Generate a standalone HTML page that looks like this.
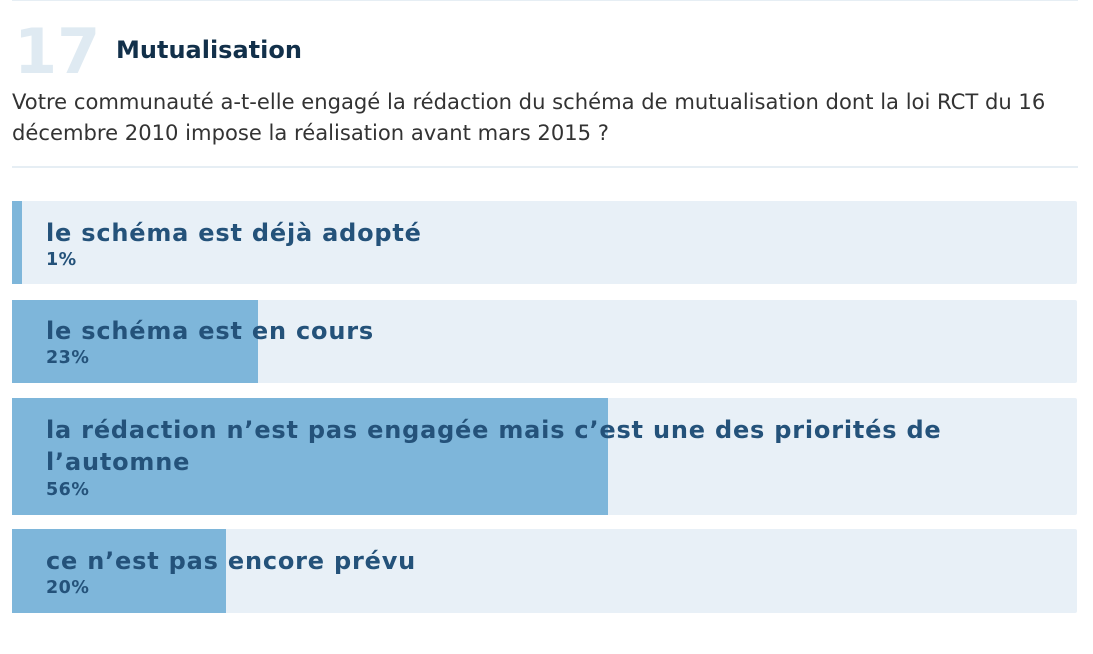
<!DOCTYPE html>
<html><head><meta charset="utf-8"><style>
body{margin:0;width:1093px;height:654px;background:#fff;font-family:"DejaVu Sans","Liberation Sans",sans-serif;position:relative;overflow:hidden}
.a{position:absolute}
.hr{position:absolute;left:12px;width:1066px;height:2px;background:#e6eef4}
.bar{position:absolute;left:12px;width:1065px;background:#e8f0f7;border-radius:2px}
.fill{position:absolute;left:0;top:0;bottom:0;background:#7eb6da}
.lab{position:absolute;left:34px;font-weight:bold;font-size:24px;line-height:32px;color:#24527a;letter-spacing:0.8px}
.pct{position:absolute;left:34px;font-weight:bold;font-size:17.5px;color:#24527a;letter-spacing:0.5px}
</style></head><body>
<div class="hr" style="top:0;height:1px"></div>
<div class="a" style="left:14px;top:14px;font-size:62px;font-weight:bold;color:#dfeaf2;line-height:76px">17</div>
<div class="a" style="left:116px;top:34px;font-size:24px;font-weight:bold;color:#12304a;line-height:32px">Mutualisation</div>
<div class="a" style="left:12px;top:86px;width:1045px;font-size:21.1px;line-height:31px;color:#333">Votre communauté a-t-elle engagé la rédaction du schéma de mutualisation dont la loi RCT du 16 décembre 2010 impose la réalisation avant mars 2015 ?</div>
<div class="hr" style="top:166px"></div>

<div class="bar" style="top:201px;height:83px"><div class="fill" style="width:10px"></div>
<div class="lab" style="top:16px">le schéma est déjà adopté</div><div class="pct" style="top:49px">1%</div></div>

<div class="bar" style="top:300px;height:83px"><div class="fill" style="width:246px"></div>
<div class="lab" style="top:15px">le schéma est en cours</div><div class="pct" style="top:48px">23%</div></div>

<div class="bar" style="top:398px;height:117px"><div class="fill" style="width:596px"></div>
<div class="lab" style="top:16px;width:920px">la rédaction n’est pas engagée mais c’est une des priorités de l’automne</div><div class="pct" style="top:82px">56%</div></div>

<div class="bar" style="top:529px;height:84px"><div class="fill" style="width:214px"></div>
<div class="lab" style="top:16px">ce n’est pas encore prévu</div><div class="pct" style="top:49px">20%</div></div>
</body></html>
